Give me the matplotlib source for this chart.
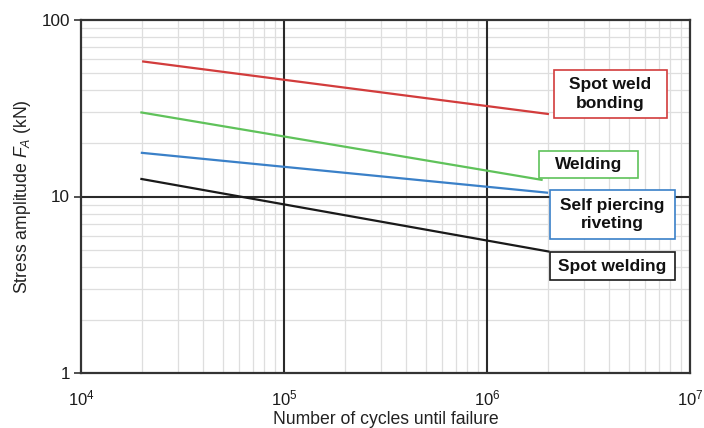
import numpy as np
import matplotlib
matplotlib.use("Agg")
import matplotlib.pyplot as plt
from matplotlib.patches import Rectangle
from matplotlib.ticker import LogLocator, FixedLocator, NullFormatter

plt.rcParams['font.family'] = ['Liberation Sans', 'DejaVu Sans']
plt.rcParams['mathtext.fontset'] = 'custom'
plt.rcParams['mathtext.rm'] = 'Liberation Sans'
plt.rcParams['mathtext.it'] = 'Liberation Sans:italic'

# Data (cycles, stress amplitude kN)
series_names = ["Spot weld\nbonding", "Welding", "Self piercing\nriveting", "Spot welding"]
cycles_start = [2.0e4, 1.96e4, 1.97e4, 1.96e4]
cycles_end = [2.02e6, 1.88e6, 2.0e6, 2.03e6]
stress_start = [58.3, 30.0, 17.7, 12.6]
stress_end = [29.3, 12.4, 10.5, 4.87]
colors = ["#d23c3c", "#5fc25a", "#3a80c8", "#1a1a1a"]

xticks = [1e4, 1e5, 1e6, 1e7]
xticklabels = ["$10^{4}$", "$10^{5}$", "$10^{6}$", "$10^{7}$"]
yticks = [1, 10, 100]
yticklabels = ["1", "10", "100"]

# label box layout (pixels: x0, x1, ytop, ybottom)
boxes = [(554, 667, 70, 118), (539, 638, 151, 178), (550, 675, 190, 239), (550, 675, 252, 280)]

W, H = 704, 428
fig = plt.figure(figsize=(W / 100, H / 100), dpi=100)
ax = fig.add_axes([81 / W, 1 - 373 / H, (690 - 81) / W, (373 - 20) / H])
ax.set_xscale('log')
ax.set_yscale('log')
ax.set_xlim(1e4, 1e7)
ax.set_ylim(1, 100)

# minor grid
ax.xaxis.set_minor_locator(LogLocator(base=10, subs=np.arange(2, 10)))
ax.yaxis.set_minor_locator(LogLocator(base=10, subs=np.arange(2, 10)))
ax.xaxis.set_minor_formatter(NullFormatter())
ax.yaxis.set_minor_formatter(NullFormatter())
ax.grid(True, which='minor', color='#dedede', linewidth=0.9, zorder=0)
ax.grid(False, which='major')
ax.set_axisbelow(True)
# major decade grid lines drawn over the minor grid
for xv in xticks[1:-1]:
    ax.axvline(xv, color='#2a2a2a', linewidth=1.5, zorder=1.5)
for yv in yticks[1:-1]:
    ax.axhline(yv, color='#2a2a2a', linewidth=1.5, zorder=1.5)

ax.xaxis.set_major_locator(FixedLocator(xticks))
ax.set_xticklabels(xticklabels, fontsize=12)
ax.yaxis.set_major_locator(FixedLocator(yticks))
ax.set_yticklabels(yticklabels, fontsize=12.3)
ax.tick_params(axis='x', which='both', length=0, pad=11, colors='#1a1a1a')
ax.tick_params(axis='y', which='major', length=5, width=1.2, pad=3, colors='#333333', labelcolor='#1a1a1a')
ax.tick_params(axis='y', which='minor', length=0)

for s in ax.spines.values():
    s.set_linewidth(1.6)
    s.set_color('#333333')

for xs, xe, ys, ye, c in zip(cycles_start, cycles_end, stress_start, stress_end, colors):
    ax.plot([xs, xe], [ys, ye], color=c, linewidth=1.6, zorder=3, solid_capstyle='butt')

for name, c, (x0, x1, yt, yb) in zip(series_names, colors, boxes):
    rect = Rectangle((x0 / W, 1 - yb / H), (x1 - x0) / W, (yb - yt) / H,
                     transform=fig.transFigure, facecolor='white', edgecolor=c,
                     linewidth=1.2, zorder=5)
    fig.patches.append(rect)
    fig.text((x0 + x1) / 2 / W, 1 - (yt + yb) / 2 / H, name, ha='center', va='center',
             fontsize=12.5, fontweight='bold', color='#111111', linespacing=1.3, zorder=6)

fig.text((81 + 690) / 2 / W, 1 - 424 / H, "Number of cycles until failure", ha='center',
         va='baseline', fontsize=12.7, color='#222222')
fig.text(23 / W, 1 - 196.5 / H, "Stress amplitude $\\mathit{F}_{A}$ (kN)", ha='center',
         va='center', rotation=90, fontsize=12.7, color='#222222')

fig.savefig("out.png", dpi=100)
